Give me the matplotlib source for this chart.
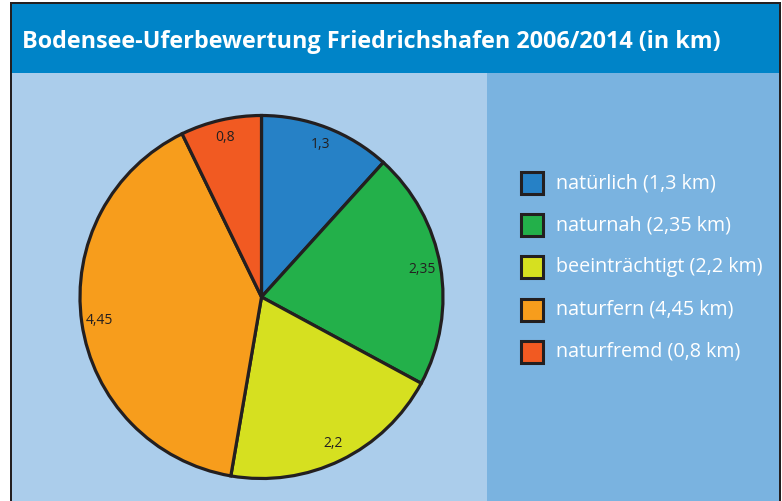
import matplotlib.pyplot as plt
from matplotlib.patches import Rectangle

# data
categories = ["natürlich", "naturnah", "beeinträchtigt", "naturfern", "naturfremd"]
values = [1.3, 2.35, 2.2, 4.45, 0.8]
value_labels = ["1,3", "2,35", "2,2", "4,45", "0,8"]
legend_labels = ["natürlich (1,3 km)", "naturnah (2,35 km)", "beeinträchtigt (2,2 km)",
                 "naturfern (4,45 km)", "naturfremd (0,8 km)"]
colors = ["#2681c6", "#23b04a", "#d6e020", "#f79d1c", "#f15a22"]
title = "Bodensee-Uferbewertung Friedrichshafen 2006/2014 (in km)"

W, H = 782, 501
dark = "#231f20"

fig = plt.figure(figsize=(W / 100, H / 100), dpi=100)
fig.patch.set_facecolor("white")


def px(x, y_top):
    # pixel coords (origin top-left) -> figure fraction
    return x / W, 1 - y_top / H


def rect(x0, y0, x1, y1, color, **kw):
    fx, fy = px(x0, y1)
    fig.patches.append(Rectangle((fx, fy), (x1 - x0) / W, (y1 - y0) / H,
                                 transform=fig.transFigure, facecolor=color,
                                 edgecolor="none", zorder=0, **kw))


# frame and panels
rect(10, 2, 781, 501, dark)
rect(12, 4, 779, 501, "#abcdeb")
rect(487, 73, 779, 501, "#7ab3e0")
rect(12, 4, 779, 73, "#0084c8")

fig.text(*px(22, 42), title, color="white", fontsize=16.8, fontweight="bold",
         family="Open Sans", va="center", ha="left")

# pie
cx, cy, r = 261.5, 297, 181.5
half = r * 1.02
ax = fig.add_axes([(cx - half) / W, (H - cy - half) / H, 2 * half / W, 2 * half / H])
ax.set_zorder(5)
wedges, texts = ax.pie(values, colors=colors, labels=value_labels, startangle=90,
                       counterclock=False, labeldistance=0.9,
                       wedgeprops=dict(edgecolor=dark, linewidth=2.3),
                       textprops=dict(color=dark, fontsize=10, family="Open Sans"))
for t in texts:
    t.set_ha("center")
    t.set_va("center")
ax.set_xlim(-1.02, 1.02)
ax.set_ylim(-1.02, 1.02)
ax.set_aspect("equal")
ax.axis("off")

# legend
lx, ly0, dy, s = 521, 183, 42.2, 22
for i, (lab, col) in enumerate(zip(legend_labels, colors)):
    yc = ly0 + i * dy
    fx, fy = px(lx, yc + s / 2)
    fig.patches.append(Rectangle((fx, fy), s / W, s / H, transform=fig.transFigure,
                                 facecolor=col, edgecolor=dark, linewidth=2.2))
    fig.text(*px(556, yc), lab, color="white", fontsize=14.2, family="Open Sans",
             va="center", ha="left")

fig.savefig("out.png", dpi=100)
